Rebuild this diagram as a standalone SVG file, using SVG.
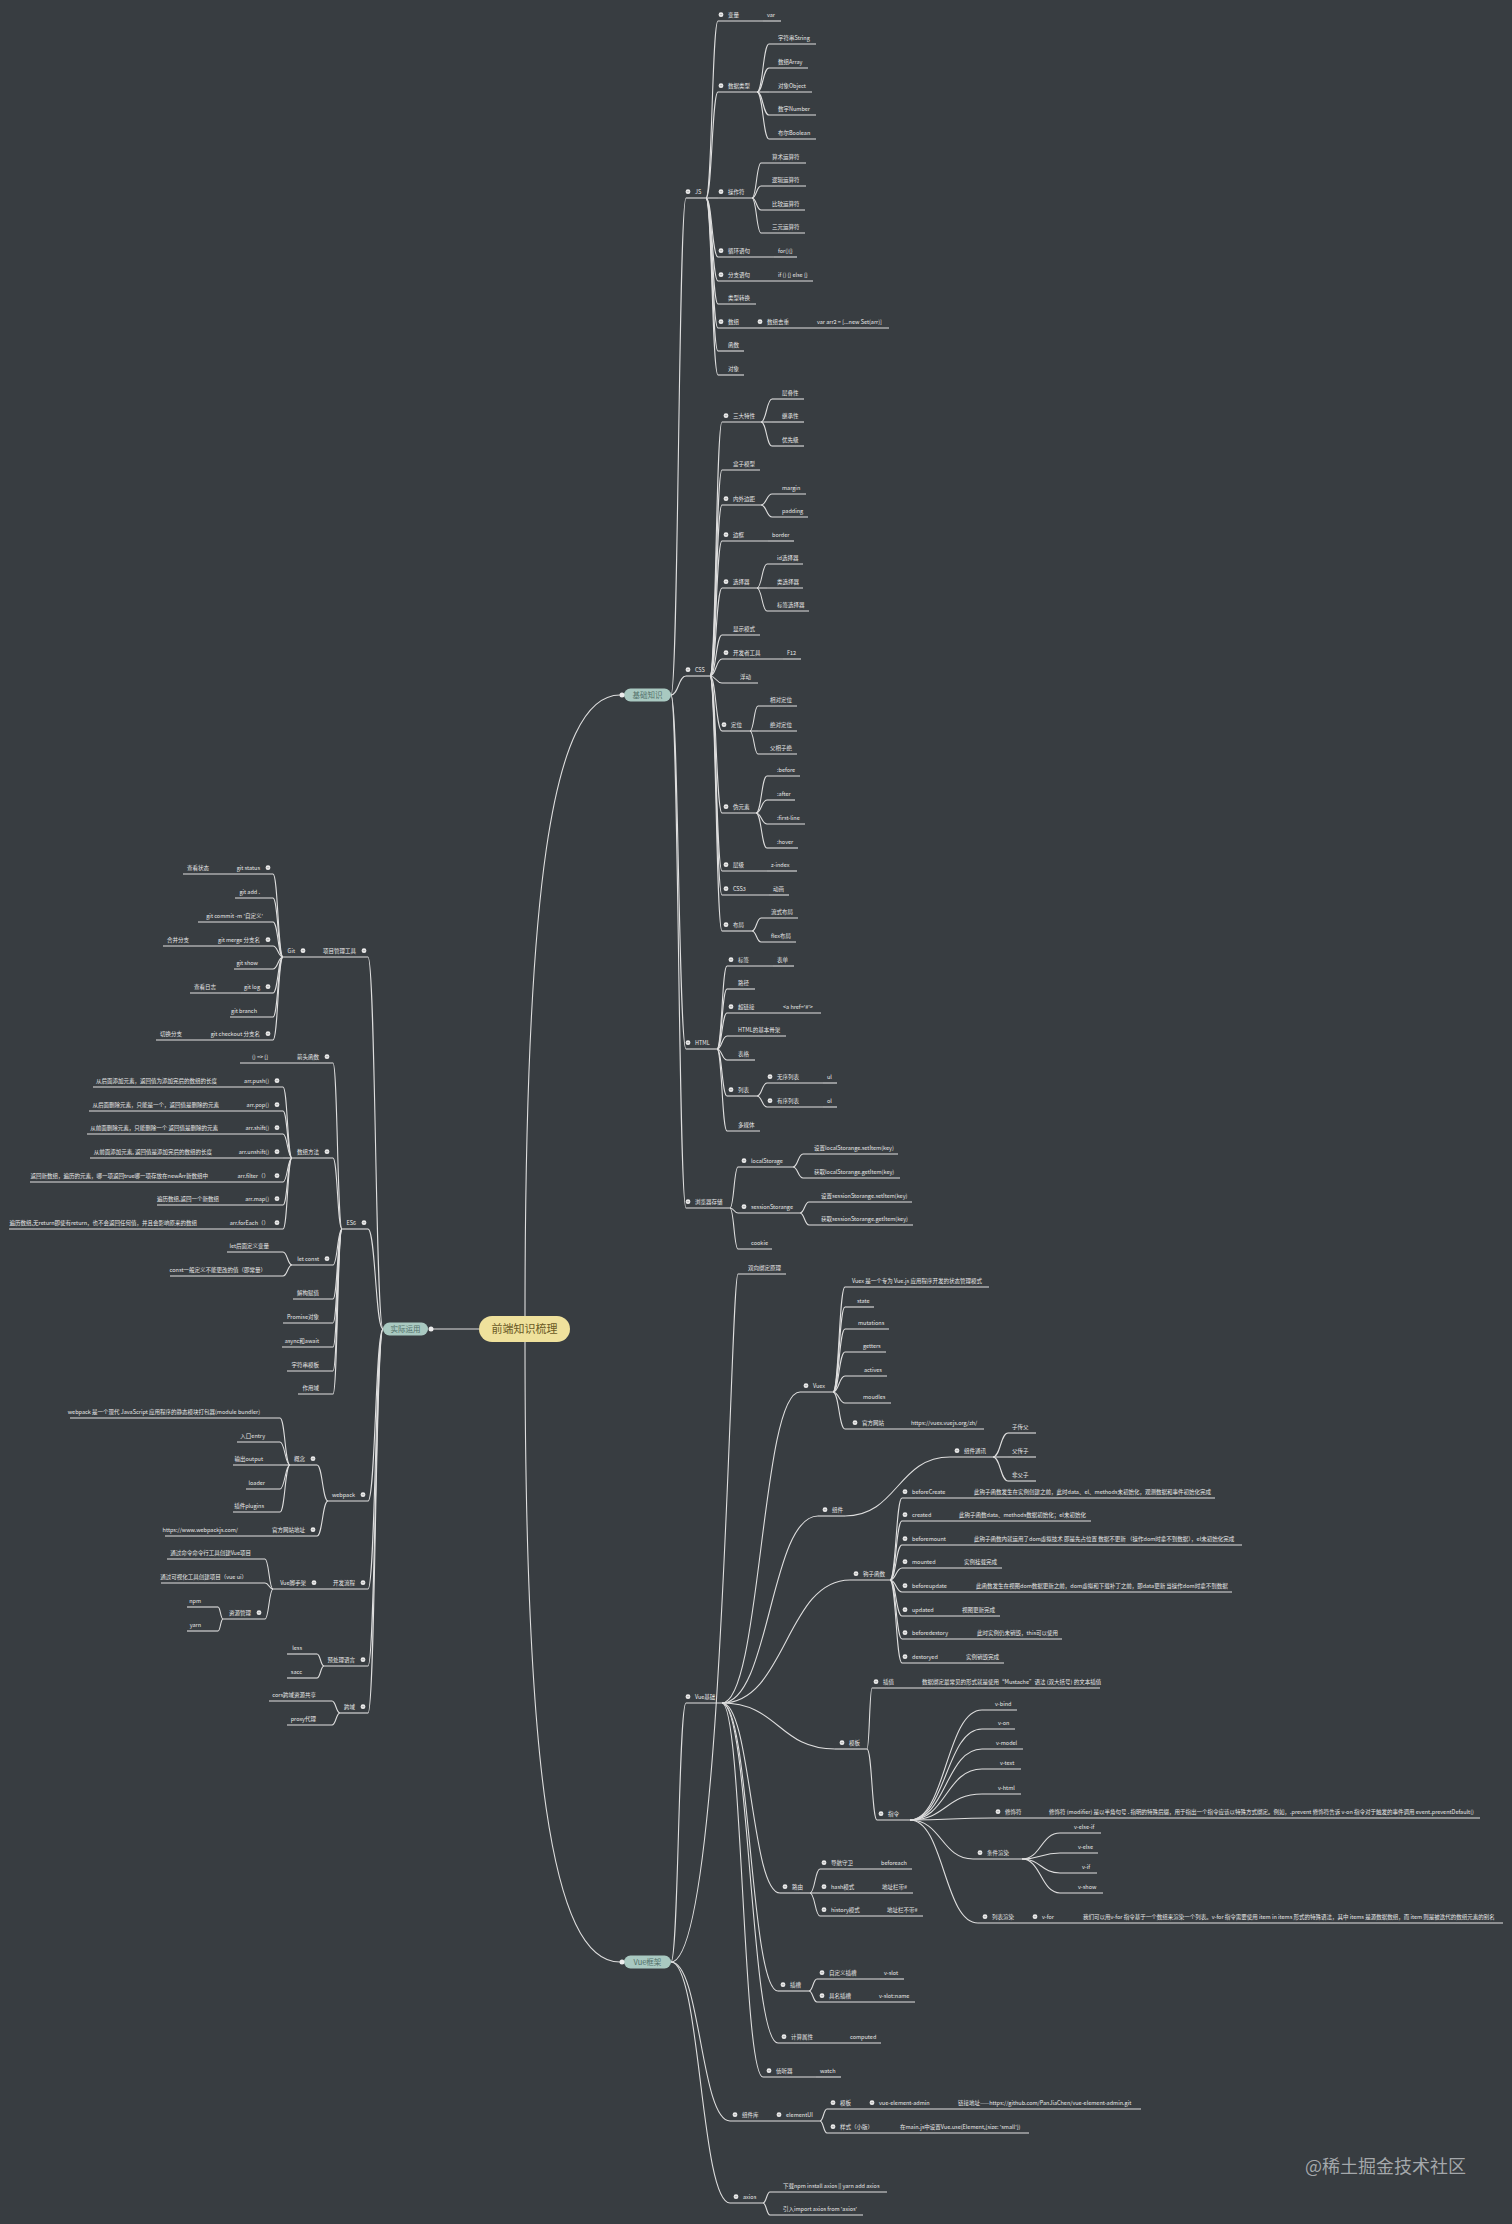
<svg xmlns="http://www.w3.org/2000/svg" xmlns:xlink="http://www.w3.org/1999/xlink" width="1512" height="2224" viewBox="0 0 1512 2224">
<style>
.nodes text{font-family:"Noto Sans CJK SC","Noto Sans",sans-serif;font-size:5.5px;fill:#e8e8e8}
.nodes text.l{text-anchor:end}
.nodes path{stroke:#e2e2e2;stroke-width:1.1;fill:none}
#connectors path{stroke:#dedede;stroke-width:1.1;fill:none}
.pill text{font-family:"Noto Sans CJK SC","Noto Sans",sans-serif;text-anchor:middle}
</style>
<defs>
<g id="dot"><circle r="2.4" fill="#ececec"/><path d="M-1.3 0H1.3" stroke="#8a8a8a" stroke-width="0.6"/></g>
</defs>
<rect width="1512" height="2224" fill="#383d41"/>
<g id="connectors">
<path d="M525 1316C525 900 550 695 620 695"/>
<path d="M525 1342C525 1760 550 1962 620 1962"/>
<path d="M479 1329H430"/>
<path d="M671 695C678.5 695 678.5 198 686 198"/>
<path d="M671 695C678.5 695 678.5 676 686 676"/>
<path d="M671 695C678.5 695 678.5 1049 686 1049"/>
<path d="M671 695C678.5 695 678.5 1208 686 1208"/>
<path d="M706 198C712 198 712 21 718 21"/>
<path d="M706 198C712 198 712 92 718 92"/>
<path d="M706 198H718"/>
<path d="M706 198C712 198 712 257 718 257"/>
<path d="M706 198C712 198 712 281 718 281"/>
<path d="M706 198C712 198 712 304 718 304"/>
<path d="M706 198C712 198 712 328 718 328"/>
<path d="M706 198C712 198 712 351 718 351"/>
<path d="M706 198C712 198 712 375 718 375"/>
<path d="M757 92C763 92 763 44 769 44"/>
<path d="M757 92C763 92 763 68 769 68"/>
<path d="M757 92H769"/>
<path d="M757 92C763 92 763 115 769 115"/>
<path d="M757 92C763 92 763 139 769 139"/>
<path d="M752 198C756.5 198 756.5 163 761 163"/>
<path d="M752 198C756.5 198 756.5 186 761 186"/>
<path d="M752 198C756.5 198 756.5 210 761 210"/>
<path d="M752 198C756.5 198 756.5 233 761 233"/>
<path d="M710 676C716 676 716 422 722 422"/>
<path d="M710 676C716 676 716 470 722 470"/>
<path d="M710 676C716 676 716 505 722 505"/>
<path d="M710 676C716 676 716 541 722 541"/>
<path d="M710 676C716 676 716 588 722 588"/>
<path d="M710 676C716 676 716 635 722 635"/>
<path d="M710 676C716 676 716 659 722 659"/>
<path d="M710 676C716 676 716 683 722 683"/>
<path d="M710 676C716 676 716 731 722 731"/>
<path d="M710 676C716 676 716 813 722 813"/>
<path d="M710 676C716 676 716 871 722 871"/>
<path d="M710 676C716 676 716 895 722 895"/>
<path d="M710 676C716 676 716 931 722 931"/>
<path d="M761 422C766.5 422 766.5 399 772 399"/>
<path d="M761 422H772"/>
<path d="M761 422C766.5 422 766.5 446 772 446"/>
<path d="M761 505C766.5 505 766.5 494 772 494"/>
<path d="M761 505C766.5 505 766.5 517 772 517"/>
<path d="M757 588C762 588 762 564 767 564"/>
<path d="M757 588H767"/>
<path d="M757 588C762 588 762 611 767 611"/>
<path d="M750 731C754 731 754 706 758 706"/>
<path d="M750 731H758"/>
<path d="M750 731C754 731 754 754 758 754"/>
<path d="M756 813C761.5 813 761.5 776 767 776"/>
<path d="M756 813C761.5 813 761.5 800 767 800"/>
<path d="M756 813C761.5 813 761.5 824 767 824"/>
<path d="M756 813C761.5 813 761.5 848 767 848"/>
<path d="M752 931C756.5 931 756.5 918 761 918"/>
<path d="M752 931C756.5 931 756.5 942 761 942"/>
<path d="M717 1049C722 1049 722 966 727 966"/>
<path d="M717 1049C722 1049 722 989 727 989"/>
<path d="M717 1049C722 1049 722 1013 727 1013"/>
<path d="M717 1049C722 1049 722 1036 727 1036"/>
<path d="M717 1049C722 1049 722 1060 727 1060"/>
<path d="M717 1049C722 1049 722 1096 727 1096"/>
<path d="M717 1049C722 1049 722 1131 727 1131"/>
<path d="M757 1096C762 1096 762 1083 767 1083"/>
<path d="M757 1096C762 1096 762 1107 767 1107"/>
<path d="M730 1208C734 1208 734 1167 738 1167"/>
<path d="M730 1208C734 1208 734 1213 738 1213"/>
<path d="M730 1208C734 1208 734 1249 738 1249"/>
<path d="M793 1167C798 1167 798 1154 803 1154"/>
<path d="M793 1167C798 1167 798 1178 803 1178"/>
<path d="M800 1213C804.5 1213 804.5 1202 809 1202"/>
<path d="M800 1213C804.5 1213 804.5 1225 809 1225"/>
<path d="M383 1329C375.5 1329 375.5 957 368 957"/>
<path d="M383 1329C375.5 1329 375.5 1229 368 1229"/>
<path d="M383 1329C375.5 1329 375.5 1501 368 1501"/>
<path d="M383 1329C375.5 1329 375.5 1589 368 1589"/>
<path d="M383 1329C375.5 1329 375.5 1666 368 1666"/>
<path d="M383 1329C375.5 1329 375.5 1713 368 1713"/>
<path d="M283 957C278 957 278 874 273 874"/>
<path d="M283 957C278 957 278 898 273 898"/>
<path d="M283 957C278 957 278 922 273 922"/>
<path d="M283 957C278 957 278 946 273 946"/>
<path d="M283 957C278 957 278 969 273 969"/>
<path d="M283 957C278 957 278 993 273 993"/>
<path d="M283 957C278 957 278 1017 273 1017"/>
<path d="M283 957C278 957 278 1040 273 1040"/>
<path d="M342 1229C337.5 1229 337.5 1063 333 1063"/>
<path d="M342 1229C337.5 1229 337.5 1158 333 1158"/>
<path d="M342 1229C337.5 1229 337.5 1265 333 1265"/>
<path d="M342 1229C337.5 1229 337.5 1299 333 1299"/>
<path d="M342 1229C337.5 1229 337.5 1323 333 1323"/>
<path d="M342 1229C337.5 1229 337.5 1347 333 1347"/>
<path d="M342 1229C337.5 1229 337.5 1371 333 1371"/>
<path d="M342 1229C337.5 1229 337.5 1394 333 1394"/>
<path d="M292 1158C287.5 1158 287.5 1087 283 1087"/>
<path d="M292 1158C287.5 1158 287.5 1111 283 1111"/>
<path d="M292 1158C287.5 1158 287.5 1134 283 1134"/>
<path d="M292 1158H283"/>
<path d="M292 1158C287.5 1158 287.5 1182 283 1182"/>
<path d="M292 1158C287.5 1158 287.5 1205 283 1205"/>
<path d="M292 1158C287.5 1158 287.5 1229 283 1229"/>
<path d="M292 1265C287.5 1265 287.5 1252 283 1252"/>
<path d="M292 1265C287.5 1265 287.5 1276 283 1276"/>
<path d="M328 1501C322.5 1501 322.5 1465 317 1465"/>
<path d="M328 1501C322.5 1501 322.5 1536 317 1536"/>
<path d="M290 1465C285 1465 285 1418 280 1418"/>
<path d="M290 1465C285 1465 285 1442 280 1442"/>
<path d="M290 1465H280"/>
<path d="M290 1465C285 1465 285 1489 280 1489"/>
<path d="M290 1465C285 1465 285 1512 280 1512"/>
<path d="M273 1589C269 1589 269 1559 265 1559"/>
<path d="M273 1589C269 1589 269 1583 265 1583"/>
<path d="M273 1589C269 1589 269 1619 265 1619"/>
<path d="M223 1619C220.5 1619 220.5 1607 218 1607"/>
<path d="M223 1619C220.5 1619 220.5 1631 218 1631"/>
<path d="M324 1666C320.5 1666 320.5 1654 317 1654"/>
<path d="M324 1666C320.5 1666 320.5 1678 317 1678"/>
<path d="M340 1713C336 1713 336 1701 332 1701"/>
<path d="M340 1713C336 1713 336 1725 332 1725"/>
<path d="M671 1962C724 1962 730 1274 738 1274"/>
<path d="M671 1962C678.5 1962 678.5 1703 686 1703"/>
<path d="M671 1962C700.5 1962 700.5 2121 730 2121"/>
<path d="M671 1962C700.5 1962 700.5 2203 730 2203"/>
<path d="M722 1703C761 1703 761 1392 800 1392"/>
<path d="M722 1703C770 1703 770 1516 818 1516"/>
<path d="M722 1703C786 1703 786 1580 850 1580"/>
<path d="M722 1703C778.5 1703 778.5 1749 835 1749"/>
<path d="M722 1703C751 1703 751 1893 780 1893"/>
<path d="M722 1703C750 1703 750 1991 778 1991"/>
<path d="M722 1703C750 1703 750 2043 778 2043"/>
<path d="M722 1703C742.5 1703 742.5 2077 763 2077"/>
<path d="M833 1392C839 1392 839 1287 845 1287"/>
<path d="M833 1392C839 1392 839 1307 845 1307"/>
<path d="M833 1392C839 1392 839 1329 845 1329"/>
<path d="M833 1392C839 1392 839 1352 845 1352"/>
<path d="M833 1392C839 1392 839 1376 845 1376"/>
<path d="M833 1392C839 1392 839 1403 845 1403"/>
<path d="M833 1392C839 1392 839 1429 845 1429"/>
<path d="M845 1516C897.5 1516 897.5 1457 950 1457"/>
<path d="M993 1457C1000.5 1457 1000.5 1433 1008 1433"/>
<path d="M993 1457H1008"/>
<path d="M993 1457C1000.5 1457 1000.5 1481 1008 1481"/>
<path d="M890 1580C896 1580 896 1498 902 1498"/>
<path d="M890 1580C896 1580 896 1521 902 1521"/>
<path d="M890 1580C896 1580 896 1545 902 1545"/>
<path d="M890 1580C896 1580 896 1568 902 1568"/>
<path d="M890 1580C896 1580 896 1592 902 1592"/>
<path d="M890 1580C896 1580 896 1616 902 1616"/>
<path d="M890 1580C896 1580 896 1639 902 1639"/>
<path d="M890 1580C896 1580 896 1663 902 1663"/>
<path d="M867 1749C869.5 1749 869.5 1688 872 1688"/>
<path d="M867 1749C872 1749 872 1820 877 1820"/>
<path d="M910 1820C946 1820 946 1710 982 1710"/>
<path d="M910 1820C946 1820 946 1729 982 1729"/>
<path d="M910 1820C946 1820 946 1749 982 1749"/>
<path d="M910 1820C946 1820 946 1769 982 1769"/>
<path d="M910 1820C946 1820 946 1794 982 1794"/>
<path d="M910 1820C951 1820 951 1818 992 1818"/>
<path d="M910 1820C941.5 1820 941.5 1859 973 1859"/>
<path d="M910 1820C944 1820 944 1923 978 1923"/>
<path d="M1022 1859C1041 1859 1041 1833 1060 1833"/>
<path d="M1022 1859C1041 1859 1041 1853 1060 1853"/>
<path d="M1022 1859C1041 1859 1041 1873 1060 1873"/>
<path d="M1022 1859C1041 1859 1041 1893 1060 1893"/>
<path d="M810 1893C815 1893 815 1869 820 1869"/>
<path d="M810 1893H820"/>
<path d="M810 1893C815 1893 815 1916 820 1916"/>
<path d="M809 1991C813 1991 813 1979 817 1979"/>
<path d="M809 1991C813 1991 813 2002 817 2002"/>
<path d="M820 2121C823.5 2121 823.5 2109 827 2109"/>
<path d="M820 2121C823.5 2121 823.5 2133 827 2133"/>
<path d="M763 2203C766.5 2203 766.5 2192 770 2192"/>
<path d="M763 2203C766.5 2203 766.5 2215 770 2215"/>
</g>
<g class="pill">
<g id="root"><rect x="479" y="1316" width="91" height="26" rx="13" fill="#efe19c"/><text x="524.5" y="1333" font-size="11" fill="#6a5a25">前端知识梳理</text></g>
<g id="jichu"><rect x="624" y="688.5" width="47" height="13" rx="6.5" fill="#a9c9c1"/><text x="647.5" y="697.6" font-size="7.5" fill="#52716a">基础知识</text><circle cx="622" cy="695" r="2.5" fill="#ececec"/></g>
<g id="shiji"><rect x="383" y="1322.5" width="45" height="13" rx="6.5" fill="#a9c9c1"/><text x="405.5" y="1331.6" font-size="7.5" fill="#52716a">实际运用</text><circle cx="431" cy="1329" r="2.5" fill="#ececec"/></g>
<g id="vuekj"><rect x="624" y="1955.5" width="47" height="13" rx="6.5" fill="#a9c9c1"/><text x="647.5" y="1964.6" font-size="7.5" fill="#52716a">Vue框架</text><circle cx="622" cy="1962" r="2.5" fill="#ececec"/></g>
</g>
<g class="nodes">
<g id="js"><use href="#dot" x="688" y="191.7"/><text x="695" y="193.7">JS</text><path d="M686 198H706"/></g>
<g id="js1"><use href="#dot" x="721" y="14.7"/><text x="728" y="16.7">变量</text><path d="M718 21H762"/></g>
<g id="js1a"><text x="767" y="16.7">var</text><path d="M762 21H781"/></g>
<g id="js2"><use href="#dot" x="721" y="85.7"/><text x="728" y="87.7">数据类型</text><path d="M718 92H757"/></g>
<g id="js2a"><text x="778" y="39.7">字符串String</text><path d="M769 44H816"/></g>
<g id="js2b"><text x="778" y="63.7">数组Array</text><path d="M769 68H808"/></g>
<g id="js2c"><text x="778" y="87.7">对象Object</text><path d="M769 92H812"/></g>
<g id="js2d"><text x="778" y="110.7">数字Number</text><path d="M769 115H816"/></g>
<g id="js2e"><text x="778" y="134.7">布尔Boolean</text><path d="M769 139H816"/></g>
<g id="js3"><use href="#dot" x="721" y="191.7"/><text x="728" y="193.7">操作符</text><path d="M718 198H752"/></g>
<g id="js3a"><text x="772" y="158.7">算术运算符</text><path d="M761 163H806"/></g>
<g id="js3b"><text x="772" y="181.7">逻辑运算符</text><path d="M761 186H806"/></g>
<g id="js3c"><text x="772" y="205.7">比较运算符</text><path d="M761 210H805"/></g>
<g id="js3d"><text x="772" y="228.7">三元运算符</text><path d="M761 233H805"/></g>
<g id="js4"><use href="#dot" x="721" y="250.7"/><text x="728" y="252.7">循环语句</text><path d="M718 257H774"/></g>
<g id="js4a"><text x="778" y="252.7">for(){}</text><path d="M774 257H797"/></g>
<g id="js5"><use href="#dot" x="721" y="274.7"/><text x="728" y="276.7">分支语句</text><path d="M718 281H774"/></g>
<g id="js5a"><text x="778" y="276.7">if () {} else {}</text><path d="M774 281H813"/></g>
<g id="js6"><text x="728" y="299.7">类型转换</text><path d="M718 304H756"/></g>
<g id="js7"><use href="#dot" x="721" y="321.7"/><text x="728" y="323.7">数组</text><path d="M718 328H756"/></g>
<g id="js7a"><use href="#dot" x="760" y="321.7"/><text x="767" y="323.7">数组去重</text><path d="M756 328H812"/></g>
<g id="js7b"><text x="817" y="323.7">var arr2 = [...new Set(arr)]</text><path d="M812 328H889"/></g>
<g id="js8"><text x="728" y="346.7">函数</text><path d="M718 351H744"/></g>
<g id="js9"><text x="728" y="370.7">对象</text><path d="M718 375H744"/></g>

<g id="css"><use href="#dot" x="688" y="669.7"/><text x="695" y="671.7">CSS</text><path d="M686 676H710"/></g>
<g id="css1"><use href="#dot" x="726" y="415.7"/><text x="733" y="417.7">三大特性</text><path d="M722 422H761"/></g>
<g id="css1a"><text x="782" y="394.7">层叠性</text><path d="M772 399H804"/></g>
<g id="css1b"><text x="782" y="417.7">继承性</text><path d="M772 422H804"/></g>
<g id="css1c"><text x="782" y="441.7">优先级</text><path d="M772 446H804"/></g>
<g id="css2"><text x="733" y="465.7">盒子模型</text><path d="M722 470H760"/></g>
<g id="css3"><use href="#dot" x="726" y="498.7"/><text x="733" y="500.7">内外边距</text><path d="M722 505H761"/></g>
<g id="css3a"><text x="782" y="489.7">margin</text><path d="M772 494H806"/></g>
<g id="css3b"><text x="782" y="512.7">padding</text><path d="M772 517H808"/></g>
<g id="css4"><use href="#dot" x="726" y="534.7"/><text x="733" y="536.7">边框</text><path d="M722 541H768"/></g>
<g id="css4a"><text x="772" y="536.7">border</text><path d="M768 541H794"/></g>
<g id="css5"><use href="#dot" x="726" y="581.7"/><text x="733" y="583.7">选择器</text><path d="M722 588H757"/></g>
<g id="css5a"><text x="777" y="559.7">id选择器</text><path d="M767 564H803"/></g>
<g id="css5b"><text x="777" y="583.7">类选择器</text><path d="M767 588H803"/></g>
<g id="css5c"><text x="777" y="606.7">标签选择器</text><path d="M767 611H809"/></g>
<g id="css6"><text x="733" y="630.7">显示模式</text><path d="M722 635H760"/></g>
<g id="css7"><use href="#dot" x="726" y="652.7"/><text x="733" y="654.7">开发者工具</text><path d="M722 659H783"/></g>
<g id="css7a"><text x="787" y="654.7">F12</text><path d="M783 659H801"/></g>
<g id="css8"><text x="740" y="678.7">浮动</text><path d="M722 683H758"/></g>
<g id="css9"><use href="#dot" x="724" y="724.7"/><text x="731" y="726.7">定位</text><path d="M722 731H750"/></g>
<g id="css9a"><text x="770" y="701.7">相对定位</text><path d="M758 706H797"/></g>
<g id="css9b"><text x="770" y="726.7">绝对定位</text><path d="M758 731H797"/></g>
<g id="css9c"><text x="770" y="749.7">父相子绝</text><path d="M758 754H797"/></g>
<g id="css10"><use href="#dot" x="726" y="806.7"/><text x="733" y="808.7">伪元素</text><path d="M722 813H756"/></g>
<g id="css10a"><text x="777" y="771.7">:before</text><path d="M767 776H800"/></g>
<g id="css10b"><text x="777" y="795.7">:after</text><path d="M767 800H795"/></g>
<g id="css10c"><text x="777" y="819.7">:first-line</text><path d="M767 824H805"/></g>
<g id="css10d"><text x="777" y="843.7">:hover</text><path d="M767 848H798"/></g>
<g id="css11"><use href="#dot" x="726" y="864.7"/><text x="733" y="866.7">层级</text><path d="M722 871H767"/></g>
<g id="css11a"><text x="771" y="866.7">z-index</text><path d="M767 871H797"/></g>
<g id="css12"><use href="#dot" x="726" y="888.7"/><text x="733" y="890.7">CSS3</text><path d="M722 895H769"/></g>
<g id="css12a"><text x="773" y="890.7">动画</text><path d="M769 895H789"/></g>
<g id="css13"><use href="#dot" x="726" y="924.7"/><text x="733" y="926.7">布局</text><path d="M722 931H752"/></g>
<g id="css13a"><text x="771" y="913.7">流式布局</text><path d="M761 918H798"/></g>
<g id="css13b"><text x="771" y="937.7">flex布局</text><path d="M761 942H796"/></g>

<g id="html"><use href="#dot" x="688" y="1042.7"/><text x="695" y="1044.7">HTML</text><path d="M686 1049H717"/></g>
<g id="html1"><use href="#dot" x="731" y="959.7"/><text x="738" y="961.7">标签</text><path d="M727 966H773"/></g>
<g id="html1a"><text x="777" y="961.7">表单</text><path d="M773 966H794"/></g>
<g id="html2"><text x="738" y="984.7">路径</text><path d="M727 989H755"/></g>
<g id="html3"><use href="#dot" x="731" y="1006.7"/><text x="738" y="1008.7">超链接</text><path d="M727 1013H779"/></g>
<g id="html3a"><text x="783" y="1008.7">&lt;a href='#'&gt;</text><path d="M779 1013H821"/></g>
<g id="html4"><text x="738" y="1031.7">HTML的基本骨架</text><path d="M727 1036H786"/></g>
<g id="html5"><text x="738" y="1055.7">表格</text><path d="M727 1060H755"/></g>
<g id="html6"><use href="#dot" x="731" y="1089.7"/><text x="738" y="1091.7">列表</text><path d="M727 1096H757"/></g>
<g id="html6a"><use href="#dot" x="770" y="1076.7"/><text x="777" y="1078.7">无序列表</text><path d="M767 1083H823"/></g>
<g id="html6a1"><text x="827" y="1078.7">ul</text><path d="M823 1083H837"/></g>
<g id="html6b"><use href="#dot" x="770" y="1100.7"/><text x="777" y="1102.7">有序列表</text><path d="M767 1107H823"/></g>
<g id="html6b1"><text x="827" y="1102.7">ol</text><path d="M823 1107H837"/></g>
<g id="html7"><text x="738" y="1126.7">多媒体</text><path d="M727 1131H760"/></g>

<g id="store"><use href="#dot" x="688" y="1201.7"/><text x="695" y="1203.7">浏览器存储</text><path d="M686 1208H730"/></g>
<g id="store1"><use href="#dot" x="744" y="1160.7"/><text x="751" y="1162.7">localStorage</text><path d="M738 1167H793"/></g>
<g id="store1a"><text x="814" y="1149.7">设置localStorange.setItem(key)</text><path d="M803 1154H898"/></g>
<g id="store1b"><text x="814" y="1173.7">获取localStorange.getItem(key)</text><path d="M803 1178H900"/></g>
<g id="store2"><use href="#dot" x="744" y="1206.7"/><text x="751" y="1208.7">sessionStorange</text><path d="M738 1213H800"/></g>
<g id="store2a"><text x="821" y="1197.7">设置sessionStorange.setItem(key)</text><path d="M809 1202H912"/></g>
<g id="store2b"><text x="821" y="1220.7">获取sessionStorange.getItem(key)</text><path d="M809 1225H913"/></g>
<g id="store3"><text x="751" y="1244.7">cookie</text><path d="M738 1249H772"/></g>

<g id="pm"><use href="#dot" x="364" y="950.7"/><text class="l" x="356" y="952.7">项目管理工具</text><path d="M318 957H368"/></g>
<g id="git"><use href="#dot" x="303" y="950.7"/><text class="l" x="295" y="952.7">Git</text><path d="M283 957H318"/></g>
<g id="git1"><use href="#dot" x="268" y="867.7"/><text class="l" x="260" y="869.7">git status</text><path d="M232 874H273"/></g>
<g id="git1a"><text class="l" x="209" y="869.7">查看状态</text><path d="M183 874H232"/></g>
<g id="git2"><text class="l" x="260" y="893.7">git add .</text><path d="M235 898H273"/></g>
<g id="git3"><text class="l" x="263" y="917.7">git commit -m '自定义'</text><path d="M198 922H273"/></g>
<g id="git4"><use href="#dot" x="268" y="939.7"/><text class="l" x="260" y="941.7">git merge 分支名</text><path d="M214 946H273"/></g>
<g id="git4a"><text class="l" x="189" y="941.7">合并分支</text><path d="M163 946H214"/></g>
<g id="git5"><text class="l" x="258" y="964.7">git show</text><path d="M234 969H273"/></g>
<g id="git6"><use href="#dot" x="268" y="986.7"/><text class="l" x="260" y="988.7">git log</text><path d="M241 993H273"/></g>
<g id="git6a"><text class="l" x="216" y="988.7">查看日志</text><path d="M190 993H241"/></g>
<g id="git7"><text class="l" x="257" y="1012.7">git branch</text><path d="M230 1017H273"/></g>
<g id="git8"><use href="#dot" x="268" y="1033.7"/><text class="l" x="260" y="1035.7">git checkout 分支名</text><path d="M208 1040H273"/></g>
<g id="git8a"><text class="l" x="182" y="1035.7">切换分支</text><path d="M156 1040H208"/></g>

<g id="es6"><use href="#dot" x="364" y="1222.7"/><text class="l" x="356" y="1224.7">ES6</text><path d="M342 1229H368"/></g>
<g id="es1"><use href="#dot" x="327" y="1056.7"/><text class="l" x="319" y="1058.7">箭头函数</text><path d="M292 1063H333"/></g>
<g id="es1a"><text class="l" x="268" y="1058.7">()  =&gt; {}</text><path d="M240 1063H292"/></g>
<g id="es2"><use href="#dot" x="327" y="1151.7"/><text class="l" x="319" y="1153.7">数组方法</text><path d="M292 1158H333"/></g>
<g id="es2a"><use href="#dot" x="277" y="1080.7"/><text class="l" x="269" y="1082.7">arr.push()</text><path d="M242 1087H283"/></g>
<g id="es2a1"><text class="l" x="217" y="1082.7">从后面添加元素，返回值为添加完后的数组的长度</text><path d="M93 1087H242"/></g>
<g id="es2b"><use href="#dot" x="277" y="1104.7"/><text class="l" x="269" y="1106.7">arr.pop()</text><path d="M244 1111H283"/></g>
<g id="es2b1"><text class="l" x="219" y="1106.7">从后面删除元素，只能是一个，返回值是删除的元素</text><path d="M89 1111H244"/></g>
<g id="es2c"><use href="#dot" x="277" y="1127.7"/><text class="l" x="269" y="1129.7">arr.shift()</text><path d="M244 1134H283"/></g>
<g id="es2c1"><text class="l" x="218" y="1129.7">从前面删除元素，只能删除一个 返回值是删除的元素</text><path d="M87 1134H244"/></g>
<g id="es2d"><use href="#dot" x="277" y="1151.7"/><text class="l" x="269" y="1153.7">arr.unshift()</text><path d="M238 1158H283"/></g>
<g id="es2d1"><text class="l" x="212" y="1153.7">从前面添加元素, 返回值是添加完后的数组的长度</text><path d="M90 1158H238"/></g>
<g id="es2e"><use href="#dot" x="277" y="1175.7"/><text class="l" x="269" y="1177.7">arr.filter（）</text><path d="M236 1182H283"/></g>
<g id="es2e1"><text class="l" x="208" y="1177.7">返回新数组，遍历的元素，哪一项返回true哪一项存放在newArr新数组中</text><path d="M30 1182H236"/></g>
<g id="es2f"><use href="#dot" x="277" y="1198.7"/><text class="l" x="269" y="1200.7">arr.map()</text><path d="M244 1205H283"/></g>
<g id="es2f1"><text class="l" x="219" y="1200.7">遍历数组,返回一个新数组</text><path d="M157 1205H244"/></g>
<g id="es2g"><use href="#dot" x="277" y="1222.7"/><text class="l" x="269" y="1224.7">arr.forEach（）</text><path d="M228 1229H283"/></g>
<g id="es2g1"><text class="l" x="197" y="1224.7">遍历数组,无return即使有return，也不会返回任何值，并且会影响原来的数组</text><path d="M9 1229H228"/></g>
<g id="es3"><use href="#dot" x="327" y="1258.7"/><text class="l" x="319" y="1260.7">let const</text><path d="M292 1265H333"/></g>
<g id="es3a"><text class="l" x="269" y="1247.7">let后面定义变量</text><path d="M227 1252H283"/></g>
<g id="es3b"><text class="l" x="266" y="1271.7">const一般定义不能更改的值（即常量）</text><path d="M170 1276H283"/></g>
<g id="es4"><text class="l" x="319" y="1294.7">解构赋值</text><path d="M293 1299H333"/></g>
<g id="es5"><text class="l" x="319" y="1318.7">Promise对象</text><path d="M283 1323H333"/></g>
<g id="es6b"><text class="l" x="319" y="1342.7">async和await</text><path d="M282 1347H333"/></g>
<g id="es7"><text class="l" x="319" y="1366.7">字符串模板</text><path d="M287 1371H333"/></g>
<g id="es8"><text class="l" x="319" y="1389.7">作用域</text><path d="M298 1394H333"/></g>

<g id="wp"><use href="#dot" x="363" y="1494.7"/><text class="l" x="355" y="1496.7">webpack</text><path d="M328 1501H368"/></g>
<g id="wp1"><use href="#dot" x="313" y="1458.7"/><text class="l" x="305" y="1460.7">概念</text><path d="M290 1465H317"/></g>
<g id="wp1a"><text class="l" x="260" y="1413.7">webpack 是一个现代 JavaScript 应用程序的静态模块打包器(module bundler)</text><path d="M70 1418H280"/></g>
<g id="wp1b"><text class="l" x="265" y="1437.7">入口entry</text><path d="M237 1442H280"/></g>
<g id="wp1c"><text class="l" x="263" y="1460.7">输出output</text><path d="M233 1465H280"/></g>
<g id="wp1d"><text class="l" x="265" y="1484.7">loader</text><path d="M246 1489H280"/></g>
<g id="wp1e"><text class="l" x="264" y="1507.7">插件plugins</text><path d="M233 1512H280"/></g>
<g id="wp2"><use href="#dot" x="313" y="1529.7"/><text class="l" x="305" y="1531.7">官方网站地址</text><path d="M270 1536H317"/></g>
<g id="wp2a"><text class="l" x="238" y="1531.7">https://www.webpackjs.com/</text><path d="M165 1536H270"/></g>
<g id="dev"><use href="#dot" x="363" y="1582.7"/><text class="l" x="355" y="1584.7">开发流程</text><path d="M328 1589H368"/></g>
<g id="dev1"><use href="#dot" x="314" y="1582.7"/><text class="l" x="306" y="1584.7">Vue脚手架</text><path d="M273 1589H328"/></g>
<g id="dev1a"><text class="l" x="251" y="1554.7">通过命令命令行工具创建Vue项目</text><path d="M167 1559H265"/></g>
<g id="dev1b"><text class="l" x="247" y="1578.7">通过可视化工具创建项目（vue ui）</text><path d="M161 1583H265"/></g>
<g id="dev1c"><use href="#dot" x="259" y="1612.7"/><text class="l" x="251" y="1614.7">资源管理</text><path d="M223 1619H265"/></g>
<g id="dev1c1"><text class="l" x="201" y="1602.7">npm</text><path d="M187 1607H218"/></g>
<g id="dev1c2"><text class="l" x="201" y="1626.7">yarn</text><path d="M187 1631H218"/></g>
<g id="pre"><use href="#dot" x="363" y="1659.7"/><text class="l" x="355" y="1661.7">预处理语言</text><path d="M324 1666H368"/></g>
<g id="pre1"><text class="l" x="302" y="1649.7">less</text><path d="M287 1654H317"/></g>
<g id="pre2"><text class="l" x="302" y="1673.7">sacc</text><path d="M287 1678H317"/></g>
<g id="cross"><use href="#dot" x="363" y="1706.7"/><text class="l" x="355" y="1708.7">跨域</text><path d="M340 1713H368"/></g>
<g id="cross1"><text class="l" x="316" y="1696.7">cors跨域资源共享</text><path d="M269 1701H332"/></g>
<g id="cross2"><text class="l" x="316" y="1720.7">proxy代理</text><path d="M287 1725H332"/></g>

<g id="v1"><text x="748" y="1269.7">双向绑定原理</text><path d="M738 1274H786"/></g>
<g id="v2"><use href="#dot" x="688" y="1696.7"/><text x="695" y="1698.7">Vue基础</text><path d="M686 1703H722"/></g>
<g id="vx"><use href="#dot" x="806" y="1385.7"/><text x="813" y="1387.7">Vuex</text><path d="M800 1392H833"/></g>
<g id="vx1"><text x="852" y="1282.7">Vuex 是一个专为 Vue.js 应用程序开发的状态管理模式</text><path d="M845 1287H989"/></g>
<g id="vx2"><text x="857" y="1302.7">state</text><path d="M845 1307H874"/></g>
<g id="vx3"><text x="858" y="1324.7">mutations</text><path d="M845 1329H889"/></g>
<g id="vx4"><text x="863" y="1347.7">getters</text><path d="M845 1352H886"/></g>
<g id="vx5"><text x="864" y="1371.7">actives</text><path d="M845 1376H887"/></g>
<g id="vx6"><text x="863" y="1398.7">moudles</text><path d="M845 1403H891"/></g>
<g id="vx7"><use href="#dot" x="855" y="1422.7"/><text x="862" y="1424.7">官方网站</text><path d="M845 1429H907"/></g>
<g id="vx7a"><text x="911" y="1424.7">https://vuex.vuejs.org/zh/</text><path d="M907 1429H984"/></g>
<g id="cp"><use href="#dot" x="825" y="1509.7"/><text x="832" y="1511.7">组件</text><path d="M818 1516H845"/></g>
<g id="cp1"><use href="#dot" x="957" y="1450.7"/><text x="964" y="1452.7">组件通讯</text><path d="M950 1457H993"/></g>
<g id="cp1a"><text x="1012" y="1428.7">子传父</text><path d="M1008 1433H1036"/></g>
<g id="cp1b"><text x="1012" y="1452.7">父传子</text><path d="M1008 1457H1036"/></g>
<g id="cp1c"><text x="1012" y="1476.7">非父子</text><path d="M1008 1481H1036"/></g>
<g id="hk"><use href="#dot" x="856" y="1573.7"/><text x="863" y="1575.7">钩子函数</text><path d="M850 1580H890"/></g>
<g id="hk1"><use href="#dot" x="905" y="1491.7"/><text x="912" y="1493.7">beforeCreate</text><path d="M902 1498H970"/></g>
<g id="hk1a"><text x="974" y="1493.7">此钩子函数发生在实例创建之前，此时data、el、methods未初始化，观测数据和事件初始化完成</text><path d="M970 1498H1215"/></g>
<g id="hk2"><use href="#dot" x="905" y="1514.7"/><text x="912" y="1516.7">created</text><path d="M902 1521H955"/></g>
<g id="hk2a"><text x="959" y="1516.7">此钩子函数data、methods数据初始化；el未初始化</text><path d="M955 1521H1091"/></g>
<g id="hk3"><use href="#dot" x="905" y="1538.7"/><text x="912" y="1540.7">beforemount</text><path d="M902 1545H970"/></g>
<g id="hk3a"><text x="974" y="1540.7">此钩子函数内就运用了dom虚拟技术 即是先占位置 数据不更新 （操作dom时拿不到数据），el未初始化完成</text><path d="M970 1545H1242"/></g>
<g id="hk4"><use href="#dot" x="905" y="1561.7"/><text x="912" y="1563.7">mounted</text><path d="M902 1568H960"/></g>
<g id="hk4a"><text x="964" y="1563.7">实例挂载完成</text><path d="M960 1568H1002"/></g>
<g id="hk5"><use href="#dot" x="905" y="1585.7"/><text x="912" y="1587.7">beforeupdate</text><path d="M902 1592H972"/></g>
<g id="hk5a"><text x="976" y="1587.7">此函数发生在视图dom数据更新之前，dom虚拟和下载补丁之前，即data更新 当操作dom时拿不到数据</text><path d="M972 1592H1232"/></g>
<g id="hk6"><use href="#dot" x="905" y="1609.7"/><text x="912" y="1611.7">updated</text><path d="M902 1616H958"/></g>
<g id="hk6a"><text x="962" y="1611.7">视图更新完成</text><path d="M958 1616H1000"/></g>
<g id="hk7"><use href="#dot" x="905" y="1632.7"/><text x="912" y="1634.7">beforedestory</text><path d="M902 1639H973"/></g>
<g id="hk7a"><text x="977" y="1634.7">此时实例仍未销毁，this可以使用</text><path d="M973 1639H1062"/></g>
<g id="hk8"><use href="#dot" x="905" y="1656.7"/><text x="912" y="1658.7">destoryed</text><path d="M902 1663H962"/></g>
<g id="hk8a"><text x="966" y="1658.7">实例销毁完成</text><path d="M962 1663H1004"/></g>
<g id="tp"><use href="#dot" x="842" y="1742.7"/><text x="849" y="1744.7">模板</text><path d="M835 1749H867"/></g>
<g id="tp1"><use href="#dot" x="876" y="1681.7"/><text x="883" y="1683.7">插值</text><path d="M872 1688H918"/></g>
<g id="tp1a"><text x="922" y="1683.7">数据绑定最常见的形式就是使用“Mustache”语法 (双大括号) 的文本插值</text><path d="M918 1688H1100"/></g>
<g id="tp2"><use href="#dot" x="881" y="1813.7"/><text x="888" y="1815.7">指令</text><path d="M877 1820H910"/></g>
<g id="tp2a"><text x="995" y="1705.7">v-bind</text><path d="M982 1710H1017"/></g>
<g id="tp2b"><text x="998" y="1724.7">v-on</text><path d="M982 1729H1015"/></g>
<g id="tp2c"><text x="996" y="1744.7">v-model</text><path d="M982 1749H1023"/></g>
<g id="tp2d"><text x="1000" y="1764.7">v-text</text><path d="M982 1769H1021"/></g>
<g id="tp2e"><text x="998" y="1789.7">v-html</text><path d="M982 1794H1021"/></g>
<g id="tp2f"><use href="#dot" x="998" y="1811.7"/><text x="1005" y="1813.7">修饰符</text><path d="M992 1818H1045"/></g>
<g id="tp2f1"><text x="1049" y="1813.7">修饰符 (modifier) 是以半角句号 . 指明的特殊后缀，用于指出一个指令应该以特殊方式绑定。例如，.prevent 修饰符告诉 v-on 指令对于触发的事件调用 event.preventDefault()</text><path d="M1045 1818H1480"/></g>
<g id="tp2g"><use href="#dot" x="980" y="1852.7"/><text x="987" y="1854.7">条件渲染</text><path d="M973 1859H1022"/></g>
<g id="tp2g1"><text x="1074" y="1828.7">v-else-if</text><path d="M1060 1833H1101"/></g>
<g id="tp2g2"><text x="1078" y="1848.7">v-else</text><path d="M1060 1853H1098"/></g>
<g id="tp2g3"><text x="1082" y="1868.7">v-if</text><path d="M1060 1873H1097"/></g>
<g id="tp2g4"><text x="1078" y="1888.7">v-show</text><path d="M1060 1893H1103"/></g>
<g id="tp2h"><use href="#dot" x="985" y="1916.7"/><text x="992" y="1918.7">列表渲染</text><path d="M978 1923H1030"/></g>
<g id="tp2h1"><use href="#dot" x="1035" y="1916.7"/><text x="1042" y="1918.7">v-for</text><path d="M1030 1923H1079"/></g>
<g id="tp2h2"><text x="1083" y="1918.7">我们可以用v-for 指令基于一个数组来渲染一个列表。v-for 指令需要使用 item in items 形式的特殊语法，其中 items 是源数据数组，而 item 则是被迭代的数组元素的别名</text><path d="M1079 1923H1503"/></g>
<g id="rt"><use href="#dot" x="785" y="1886.7"/><text x="792" y="1888.7">路由</text><path d="M780 1893H810"/></g>
<g id="rt1"><use href="#dot" x="824" y="1862.7"/><text x="831" y="1864.7">导航守卫</text><path d="M820 1869H877"/></g>
<g id="rt1a"><text x="881" y="1864.7">beforeach</text><path d="M877 1869H912"/></g>
<g id="rt2"><use href="#dot" x="824" y="1886.7"/><text x="831" y="1888.7">hash模式</text><path d="M820 1893H878"/></g>
<g id="rt2a"><text x="882" y="1888.7">地址栏带#</text><path d="M878 1893H913"/></g>
<g id="rt3"><use href="#dot" x="824" y="1909.7"/><text x="831" y="1911.7">history模式</text><path d="M820 1916H883"/></g>
<g id="rt3a"><text x="887" y="1911.7">地址栏不带#</text><path d="M883 1916H923"/></g>
<g id="sl"><use href="#dot" x="783" y="1984.7"/><text x="790" y="1986.7">插槽</text><path d="M778 1991H809"/></g>
<g id="sl1"><use href="#dot" x="822" y="1972.7"/><text x="829" y="1974.7">自定义插槽</text><path d="M817 1979H880"/></g>
<g id="sl1a"><text x="884" y="1974.7">v-slot</text><path d="M880 1979H904"/></g>
<g id="sl2"><use href="#dot" x="822" y="1995.7"/><text x="829" y="1997.7">具名插槽</text><path d="M817 2002H875"/></g>
<g id="sl2a"><text x="879" y="1997.7">v-slot:name</text><path d="M875 2002H915"/></g>
<g id="cm"><use href="#dot" x="784" y="2036.7"/><text x="791" y="2038.7">计算属性</text><path d="M778 2043H846"/></g>
<g id="cma"><text x="850" y="2038.7">computed</text><path d="M846 2043H881"/></g>
<g id="wt"><use href="#dot" x="769" y="2070.7"/><text x="776" y="2072.7">侦听器</text><path d="M763 2077H816"/></g>
<g id="wta"><text x="820" y="2072.7">watch</text><path d="M816 2077H841"/></g>
<g id="lib"><use href="#dot" x="735" y="2114.7"/><text x="742" y="2116.7">组件库</text><path d="M730 2121H775"/></g>
<g id="lib1"><use href="#dot" x="779" y="2114.7"/><text x="786" y="2116.7">elementUI</text><path d="M775 2121H820"/></g>
<g id="lib1a"><use href="#dot" x="833" y="2102.7"/><text x="840" y="2104.7">模板</text><path d="M827 2109H867"/></g>
<g id="lib1a1"><use href="#dot" x="872" y="2102.7"/><text x="879" y="2104.7">vue-element-admin</text><path d="M867 2109H954"/></g>
<g id="lib1a2"><text x="958" y="2104.7">链接地址——https://github.com/PanJiaChen/vue-element-admin.git</text><path d="M954 2109H1141"/></g>
<g id="lib1b"><use href="#dot" x="833" y="2126.7"/><text x="840" y="2128.7">样式（小版）</text><path d="M827 2133H896"/></g>
<g id="lib1b1"><text x="900" y="2128.7">在main.js中设置Vue.use(Element,{size: 'small'})</text><path d="M896 2133H1029"/></g>
<g id="ax"><use href="#dot" x="736" y="2196.7"/><text x="743" y="2198.7">axios</text><path d="M730 2203H763"/></g>
<g id="ax1"><text x="783" y="2187.7">下载npm install axios || yarn add axios</text><path d="M770 2192H887"/></g>
<g id="ax2"><text x="783" y="2210.7">引入import axios from 'axios'</text><path d="M770 2215H863"/></g>
</g>
<text x="1305" y="2173" font-family="'Noto Sans CJK SC','Noto Sans',sans-serif" font-size="18" fill="#b9bcbf" fill-opacity="0.85">@稀土掘金技术社区</text>
</svg>
